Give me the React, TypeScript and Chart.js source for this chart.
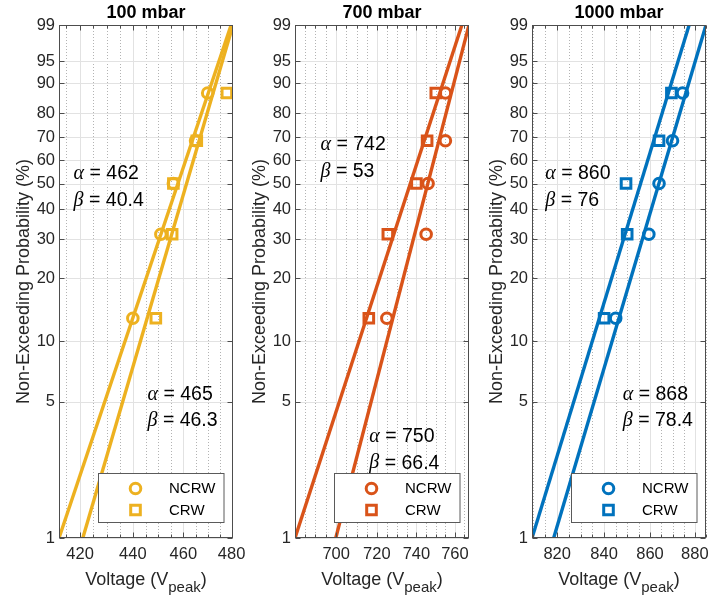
import React, { useEffect, useRef } from 'react';
import { Chart, LinearScale, registerables } from 'chart.js';

Chart.register(...registerables);

// Median-rank plotting positions (%) for five breakdowns per set
const RANKS = [12.96, 31.48, 50, 68.52, 87.04];

const PANEL_TITLES = ['100 mbar', '700 mbar', '1000 mbar'];

// Breakdown voltages (V peak)
const NCRW_100 = [440, 451, 456, 465, 470];
const CRW_100 = [449, 455.5, 456, 465.5, 478];
const NCRW_700 = [725, 745, 746, 755, 755];
const CRW_700 = [716, 725.5, 740, 745.5, 750];
const NCRW_1000 = [845, 859.5, 864, 870, 874.5];
const CRW_1000 = [840, 850, 849.5, 864, 869.5];

// Weibull fits: scale alpha, shape beta
const NCRW_ALPHA = [462, 750, 868];
const NCRW_BETA = [40.4, 66.4, 78.4];
const CRW_ALPHA = [465, 742, 860];
const CRW_BETA = [46.3, 53, 76];

const X_TICKS = [
  [420, 440, 460, 480],
  [700, 720, 740, 760],
  [820, 840, 860, 880],
];
const PROB_TICKS = [1, 5, 10, 20, 30, 40, 50, 60, 70, 80, 90, 95, 99];

const COLORS = ['#EDB120', '#D95319', '#0072BD'];
const FONT = '"Liberation Sans", Arial, Helvetica, sans-serif';
const MATH_FONT = '"Liberation Serif", "DejaVu Serif", serif';
const TEXT_DARK = '#262626';

// Layout of the three axes boxes
const CANVAS_LEFT = [0, 236, 473];
const CANVAS_W = 250;
const CANVAS_H = 601;
const AREA_LEFT = 59;
const AREA_TOP = 25;
const AREA_RIGHT_PAD = 17;
const X_AXIS_H = 63;
const MARKER_LW = 3;
const CIRCLE_R = 5.3;
const SQUARE_R = 6.8;

// Fit text blocks, offsets from the plot area's top-left (px)
const UPPER_TEXT = [[14.6, 149], [25.5, 120], [13.3, 149]];
const LOWER_TEXT = [[88.5, 369.3], [74.3, 411.7], [90.8, 369.3]];
const TEXT_LINE_GAP = 26.5;

const weib = (p: number) => Math.log(-Math.log(1 - p / 100));
const unweib = (w: number) => 100 * (1 - Math.exp(-Math.exp(w)));
const quantile = (alpha: number, beta: number, p: number) =>
  alpha * Math.pow(-Math.log(1 - p / 100), 1 / beta);

// Probability axis on Weibull paper: linear in ln(-ln(1-p))
class WeibullScale extends LinearScale {
  static id = 'weibull';
  static defaults = {};
  buildTicks() {
    this.start = this.min;
    this.end = this.max;
    return PROB_TICKS.map((value) => ({ value }));
  }
  configure() {
    super.configure();
    (this as any)._wMin = weib(this.min);
    (this as any)._wMax = weib(this.max);
  }
  getPixelForValue(value: number) {
    const a = (this as any)._wMin;
    const b = (this as any)._wMax;
    return this.getPixelForDecimal((weib(value) - a) / (b - a));
  }
  getValueForPixel(pixel: number) {
    const a = (this as any)._wMin;
    const b = (this as any)._wMax;
    return unweib(a + this.getDecimalForPixel(pixel) * (b - a));
  }
}
Chart.register(WeibullScale as any);

const PANELS = [
  { ncrw: NCRW_100, crw: CRW_100 },
  { ncrw: NCRW_700, crw: CRW_700 },
  { ncrw: NCRW_1000, crw: CRW_1000 },
];

function drawCircle(ctx: CanvasRenderingContext2D, x: number, y: number, color: string) {
  ctx.beginPath();
  ctx.arc(x, y, CIRCLE_R, 0, Math.PI * 2);
  ctx.strokeStyle = color;
  ctx.lineWidth = MARKER_LW;
  ctx.stroke();
}

function drawSquare(ctx: CanvasRenderingContext2D, x: number, y: number, color: string) {
  const h = SQUARE_R * Math.SQRT1_2;
  ctx.beginPath();
  ctx.rect(x - h, y - h, 2 * h, 2 * h);
  ctx.strokeStyle = color;
  ctx.lineWidth = MARKER_LW;
  ctx.stroke();
}

function makeDecor(idx: number) {
  const color = COLORS[idx];
  return {
    id: 'weibullDecor',
    beforeDatasetsDraw(chart: any) {
      const { ctx, chartArea: a, scales } = chart;
      const xs = scales.x;
      const ys = scales.y;
      ctx.save();
      // dotted minor verticals every 5 V
      ctx.strokeStyle = 'rgba(38,38,38,0.35)';
      ctx.lineWidth = 1;
      ctx.setLineDash([1, 2]);
      for (let v = Math.ceil(xs.min / 5) * 5; v <= xs.max; v += 5) {
        if (v % 20 === 0) continue;
        const px = Math.round(xs.getPixelForValue(v)) + 0.5;
        ctx.beginPath();
        ctx.moveTo(px, a.top);
        ctx.lineTo(px, a.bottom);
        ctx.stroke();
      }
      ctx.setLineDash([]);
      ctx.strokeStyle = '#e2e2e2';
      for (const v of X_TICKS[idx]) {
        const px = Math.round(xs.getPixelForValue(v)) + 0.5;
        ctx.beginPath();
        ctx.moveTo(px, a.top);
        ctx.lineTo(px, a.bottom);
        ctx.stroke();
      }
      for (const p of PROB_TICKS) {
        const py = Math.round(ys.getPixelForValue(p)) + 0.5;
        ctx.beginPath();
        ctx.moveTo(a.left, py);
        ctx.lineTo(a.right, py);
        ctx.stroke();
      }
      ctx.restore();
    },
    afterDatasetsDraw(chart: any) {
      const { ctx, chartArea: a, scales } = chart;
      const xs = scales.x;
      const ys = scales.y;
      ctx.save();

      // axes box with inward ticks
      ctx.strokeStyle = '#4d4d4d';
      ctx.lineWidth = 1;
      const L = Math.round(a.left) + 0.5;
      const R = Math.round(a.right) - 0.5;
      const T = Math.round(a.top) + 0.5;
      const B = Math.round(a.bottom) - 0.5;
      ctx.strokeRect(L, T, R - L, B - T);
      ctx.beginPath();
      for (let v = Math.ceil(xs.min / 5) * 5; v <= xs.max; v += 5) {
        const px = Math.round(xs.getPixelForValue(v)) + 0.5;
        const len = v % 20 === 0 ? 5 : 3;
        ctx.moveTo(px, B);
        ctx.lineTo(px, B - len);
        ctx.moveTo(px, T);
        ctx.lineTo(px, T + len);
      }
      for (const p of PROB_TICKS) {
        const py = Math.round(ys.getPixelForValue(p)) + 0.5;
        ctx.moveTo(L, py);
        ctx.lineTo(L + 5, py);
        ctx.moveTo(R, py);
        ctx.lineTo(R - 5, py);
      }
      ctx.stroke();

      // fit parameter text
      const fits = [
        { a: NCRW_ALPHA[idx], b: NCRW_BETA[idx] },
        { a: CRW_ALPHA[idx], b: CRW_BETA[idx] },
      ];
      fits.sort((f, g) => quantile(f.a, f.b, 1) - quantile(g.a, g.b, 1));
      const blocks = [UPPER_TEXT[idx], LOWER_TEXT[idx]];
      ctx.fillStyle = '#000';
      ctx.textBaseline = 'middle';
      ctx.textAlign = 'left';
      fits.forEach((f, k) => {
        const [ox, oy] = blocks[k];
        const lines = [
          ['\u03b1', ' = ' + f.a],
          ['\u03b2', ' = ' + f.b],
        ];
        lines.forEach(([sym, rest], j) => {
          const x = a.left + ox;
          const y = a.top + oy + j * TEXT_LINE_GAP;
          ctx.font = `italic 20px ${MATH_FONT}`;
          ctx.fillText(sym, x, y);
          const w = ctx.measureText(sym).width;
          ctx.font = `19.5px ${FONT}`;
          ctx.fillText(rest, x + w, y);
        });
      });

      // legend
      const bw = 125.5;
      const bh = 49;
      const bx = Math.round(a.right - 9.5 - bw) + 0.5;
      const by = Math.round(a.bottom - 15.7 - bh) + 0.5;
      ctx.fillStyle = '#fff';
      ctx.fillRect(bx, by, bw, bh);
      ctx.strokeStyle = '#5a5a5a';
      ctx.lineWidth = 1;
      ctx.strokeRect(bx, by, bw, bh);
      drawCircle(ctx, bx + 37, by + 15, color);
      drawSquare(ctx, bx + 37, by + 36.5, color);
      ctx.fillStyle = '#000';
      ctx.font = `15px ${FONT}`;
      ctx.textBaseline = 'middle';
      ctx.fillText('NCRW', bx + 70.5, by + 15.5);
      ctx.fillText('CRW', bx + 70.5, by + 37);

      // title
      const cx = (a.left + a.right) / 2;
      ctx.fillStyle = '#000';
      ctx.font = `bold 18px ${FONT}`;
      ctx.textAlign = 'center';
      ctx.fillText(PANEL_TITLES[idx], cx, 13);

      // x title with subscript
      ctx.fillStyle = TEXT_DARK;
      ctx.textAlign = 'left';
      ctx.textBaseline = 'alphabetic';
      const main = 'Voltage (V';
      const sub = 'peak';
      ctx.font = `18px ${FONT}`;
      const w1 = ctx.measureText(main).width;
      const w3 = ctx.measureText(')').width;
      ctx.font = `15px ${FONT}`;
      const w2 = ctx.measureText(sub).width;
      const x0 = cx - (w1 + w2 + w3) / 2;
      const base = 585;
      ctx.font = `18px ${FONT}`;
      ctx.fillText(main, x0, base);
      ctx.font = `15px ${FONT}`;
      ctx.fillText(sub, x0 + w1, base + 7);
      ctx.font = `18px ${FONT}`;
      ctx.fillText(')', x0 + w1 + w2, base);

      // y title
      ctx.save();
      ctx.translate(a.left - 34.5, (a.top + a.bottom) / 2);
      ctx.rotate(-Math.PI / 2);
      ctx.textAlign = 'center';
      ctx.textBaseline = 'middle';
      ctx.font = `18px ${FONT}`;
      ctx.fillText('Non-Exceeding Probability (%)', 0, 0);
      ctx.restore();

      ctx.restore();
    },
  };
}

function Panel({ idx }: { idx: number }) {
  const ref = useRef<HTMLCanvasElement>(null);
  useEffect(() => {
    const canvas = ref.current;
    if (!canvas) return;
    const color = COLORS[idx];
    const { ncrw, crw } = PANELS[idx];
    const fitN = [NCRW_ALPHA[idx], NCRW_BETA[idx]];
    const fitC = [CRW_ALPHA[idx], CRW_BETA[idx]];
    const lineOf = (f: number[]) => [
      { x: quantile(f[0], f[1], 1), y: 1 },
      { x: quantile(f[0], f[1], 99), y: 99 },
    ];
    const lineN = lineOf(fitN);
    const lineC = lineOf(fitC);
    const xMin = Math.min(lineN[0].x, lineC[0].x);
    const xMax = Math.max(lineN[1].x, lineC[1].x);

    const markerSet = (label: string, vals: number[], style: string, r: number) => ({
      label,
      data: vals.map((v, k) => ({ x: v, y: RANKS[k] })),
      showLine: false,
      pointStyle: style,
      pointRadius: r,
      pointBorderWidth: MARKER_LW,
      borderColor: color,
      pointBorderColor: color,
      backgroundColor: 'rgba(0,0,0,0)',
      pointBackgroundColor: 'rgba(0,0,0,0)',
    });

    const chart = new Chart(canvas, {
      type: 'line',
      data: {
        datasets: [
          { label: 'NCRW fit', data: lineN, borderColor: color, borderWidth: 3.4, pointRadius: 0, clip: 0 },
          { label: 'CRW fit', data: lineC, borderColor: color, borderWidth: 3.4, pointRadius: 0, clip: 0 },
          markerSet('NCRW', ncrw, 'circle', CIRCLE_R),
          markerSet('CRW', crw, 'rect', SQUARE_R),
        ],
      } as any,
      options: {
        animation: false,
        responsive: false,
        events: [],
        layout: { padding: { top: AREA_TOP, right: AREA_RIGHT_PAD, left: 0, bottom: 0 } },
        plugins: {
          legend: { display: false },
          tooltip: { enabled: false },
          title: { display: false },
        },
        scales: {
          x: {
            type: 'logarithmic',
            min: xMin,
            max: xMax,
            afterBuildTicks: (s: any) => {
              s.ticks = X_TICKS[idx].map((value) => ({ value }));
            },
            afterFit: (s: any) => {
              s.height = X_AXIS_H;
              s.paddingLeft = 0;
              s.paddingRight = 0;
            },
            grid: { display: false, drawTicks: false },
            border: { display: false },
            ticks: {
              autoSkip: false,
              maxRotation: 0,
              padding: 7,
              color: TEXT_DARK,
              font: { family: FONT, size: 16.5 },
              callback: (v: any) => String(v),
            },
          },
          y: {
            type: 'weibull',
            min: 1,
            max: 99,
            afterFit: (s: any) => {
              s.width = AREA_LEFT;
              s.paddingTop = 0;
              s.paddingBottom = 0;
            },
            grid: { display: false, drawTicks: false },
            border: { display: false },
            ticks: {
              autoSkip: false,
              padding: 4,
              color: TEXT_DARK,
              font: { family: FONT, size: 16.5 },
              callback: (v: any) => String(v),
            },
          },
        },
      } as any,
      plugins: [makeDecor(idx)],
    });
    return () => chart.destroy();
  }, [idx]);

  return (
    <canvas
      ref={ref}
      width={CANVAS_W}
      height={CANVAS_H}
      style={{
        position: 'absolute',
        left: CANVAS_LEFT[idx],
        top: 0,
        width: CANVAS_W,
        height: CANVAS_H,
      }}
    />
  );
}

export default function App() {
  return (
    <div
      style={{
        position: 'absolute',
        left: 0,
        top: 0,
        width: 708,
        height: 601,
        overflow: 'hidden',
        background: '#fff',
      }}
    >
      {[0, 1, 2].map((i) => (
        <Panel key={i} idx={i} />
      ))}
    </div>
  );
}
